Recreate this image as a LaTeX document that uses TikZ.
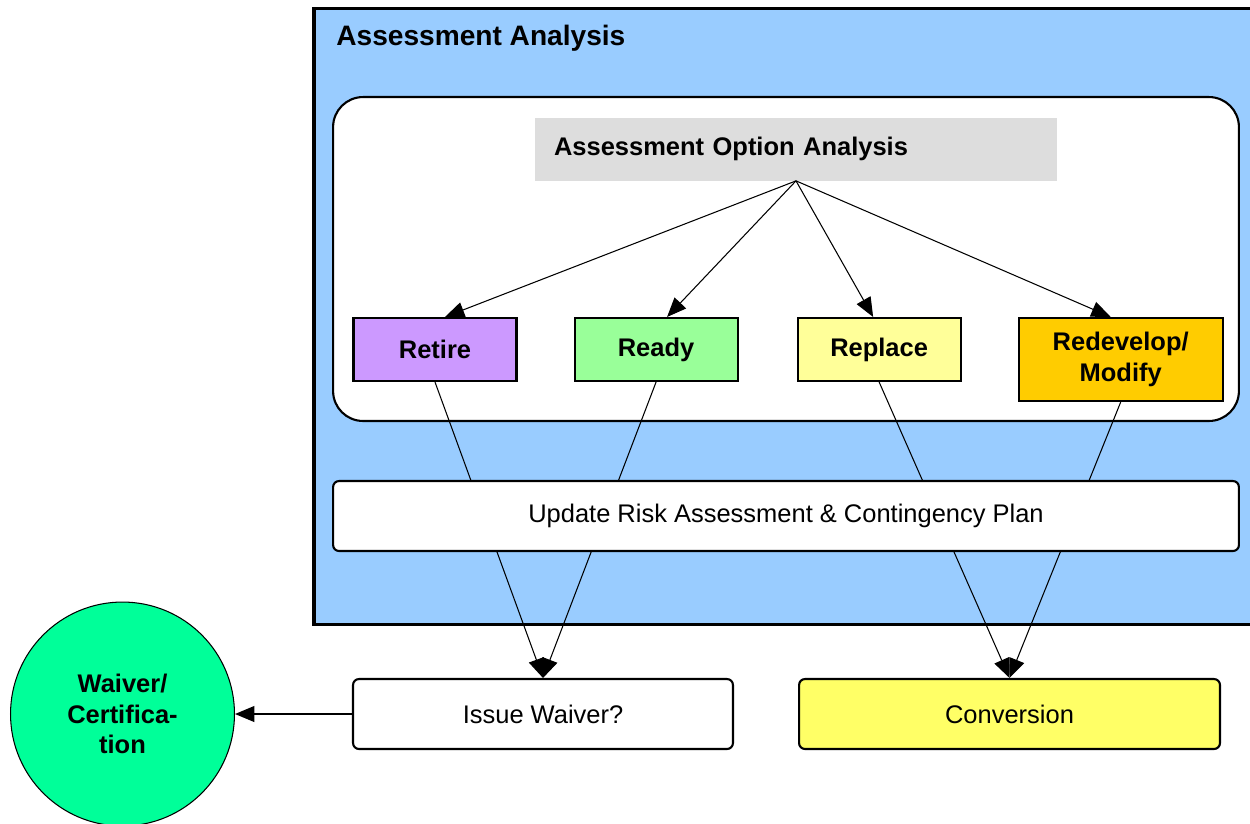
\documentclass[tikz,border=0pt]{standalone}
\usepackage{fontspec}
\setmainfont{Liberation Sans}
\usetikzlibrary{positioning}
\usetikzlibrary{arrows.meta}
\definecolor{skyblue}{HTML}{99CCFF}
\definecolor{lightgrey}{HTML}{DDDDDD}
\definecolor{retirepurple}{HTML}{CC99FF}
\definecolor{readygreen}{HTML}{99FF99}
\definecolor{replaceyellow}{HTML}{FFFF99}
\definecolor{redevelopgold}{HTML}{FFCC00}
\definecolor{conversionyellow}{HTML}{FFFF66}
\definecolor{waivergreen}{HTML}{00FF99}

\begin{document}
\begin{tikzpicture}[%
    x=0.02cm, y=-0.02cm,
    node distance=1.2cm,
    font=\fontsize{14.5}{18}\selectfont,
optnode/.style={rectangle, align=center, draw=black, very thick, minimum width=3.26cm, minimum height=1.26cm, font=\fontsize{14.5}{18}\selectfont\bfseries},
stepnode/.style={rectangle, rounded corners=0.12cm, align=center, draw=black, very thick, minimum height=1.4cm},
arr/.style={-{Triangle[length=11pt,width=9pt]}, semithick}
]
\useasboundingbox (0,0) rectangle (1250,823);

% Assessment Analysis
\node[rectangle, draw=black, line width=2pt, fill=skyblue, minimum width=18.96cm, minimum height=12.32cm] (analysis) at (788,316.5) {};
\node[anchor=west, inner sep=0pt, font=\fontsize{16}{19}\selectfont\bfseries] (analysistitle) at (336,38) {Assessment Analysis};

% Option Nodes
\node[rectangle, draw=black, very thick, fill=white, rounded corners=0.6cm, minimum width=18.12cm, minimum height=6.48cm] (options) at (786,259) {};
\node[rectangle, fill=lightgrey, minimum width=10.44cm, minimum height=1.26cm, text width=9.68cm, inner xsep=0.38cm, align=left, font=\fontsize{14.5}{18}\selectfont\bfseries] (optionanalysis) at (796,149) {Assessment Option Analysis};

\node[optnode, fill=retirepurple]      (retire)  at (435,349.5) {Retire};
\node[optnode, fill=readygreen]        (ready) [right=1.12cm of retire] {Ready};
\node[optnode, fill=replaceyellow]     (replace) [right=1.16cm of ready] {Replace};
\node[optnode, fill=redevelopgold, minimum width=4.08cm, minimum height=1.66cm] (redevelop) [right=1.12cm of replace.north east, anchor=north west] {Redevelop/\\Modify};

% Option Lines
\draw[arr] (optionanalysis.south) -- ([xshift=0.2cm]retire.north);
\draw[arr] (optionanalysis.south) -- ([xshift=0.22cm]ready.north);
\draw[arr] (optionanalysis.south) -- ([xshift=-0.12cm]replace.north);
\draw[arr] (optionanalysis.south) -- ([xshift=-0.2cm]redevelop.north);

% Outcome Nodes
\node[stepnode, minimum width=7.6cm]  (waiver)  at (543,714) {Issue Waiver?};
\node[stepnode, fill=conversionyellow, minimum width=8.42cm] (conversion) [right=1.28cm of waiver] {Conversion};
\node[circle, draw=black, semithick, fill=waivergreen, minimum size=4.48cm, align=center, font=\fontsize{14.5}{17.5}\selectfont\bfseries] (certification) [left=2.34cm of waiver] {Waiver/\\Certifica-\\tion};

% Outcome Lines
\draw[arr] (retire.south) -- (waiver.north);
\draw[arr] (ready.south) -- (waiver.north);
\draw[arr] (replace.south) -- (conversion.north);
\draw[arr] (redevelop.south) -- (conversion.north);
\draw[arr, thick] (waiver.west) -- (certification.east);

% Risk update
\node[stepnode, fill=white, minimum width=18.12cm] (riskupdate) at (786,516) {Update Risk Assessment \& Contingency Plan};

\end{tikzpicture}
\end{document}
